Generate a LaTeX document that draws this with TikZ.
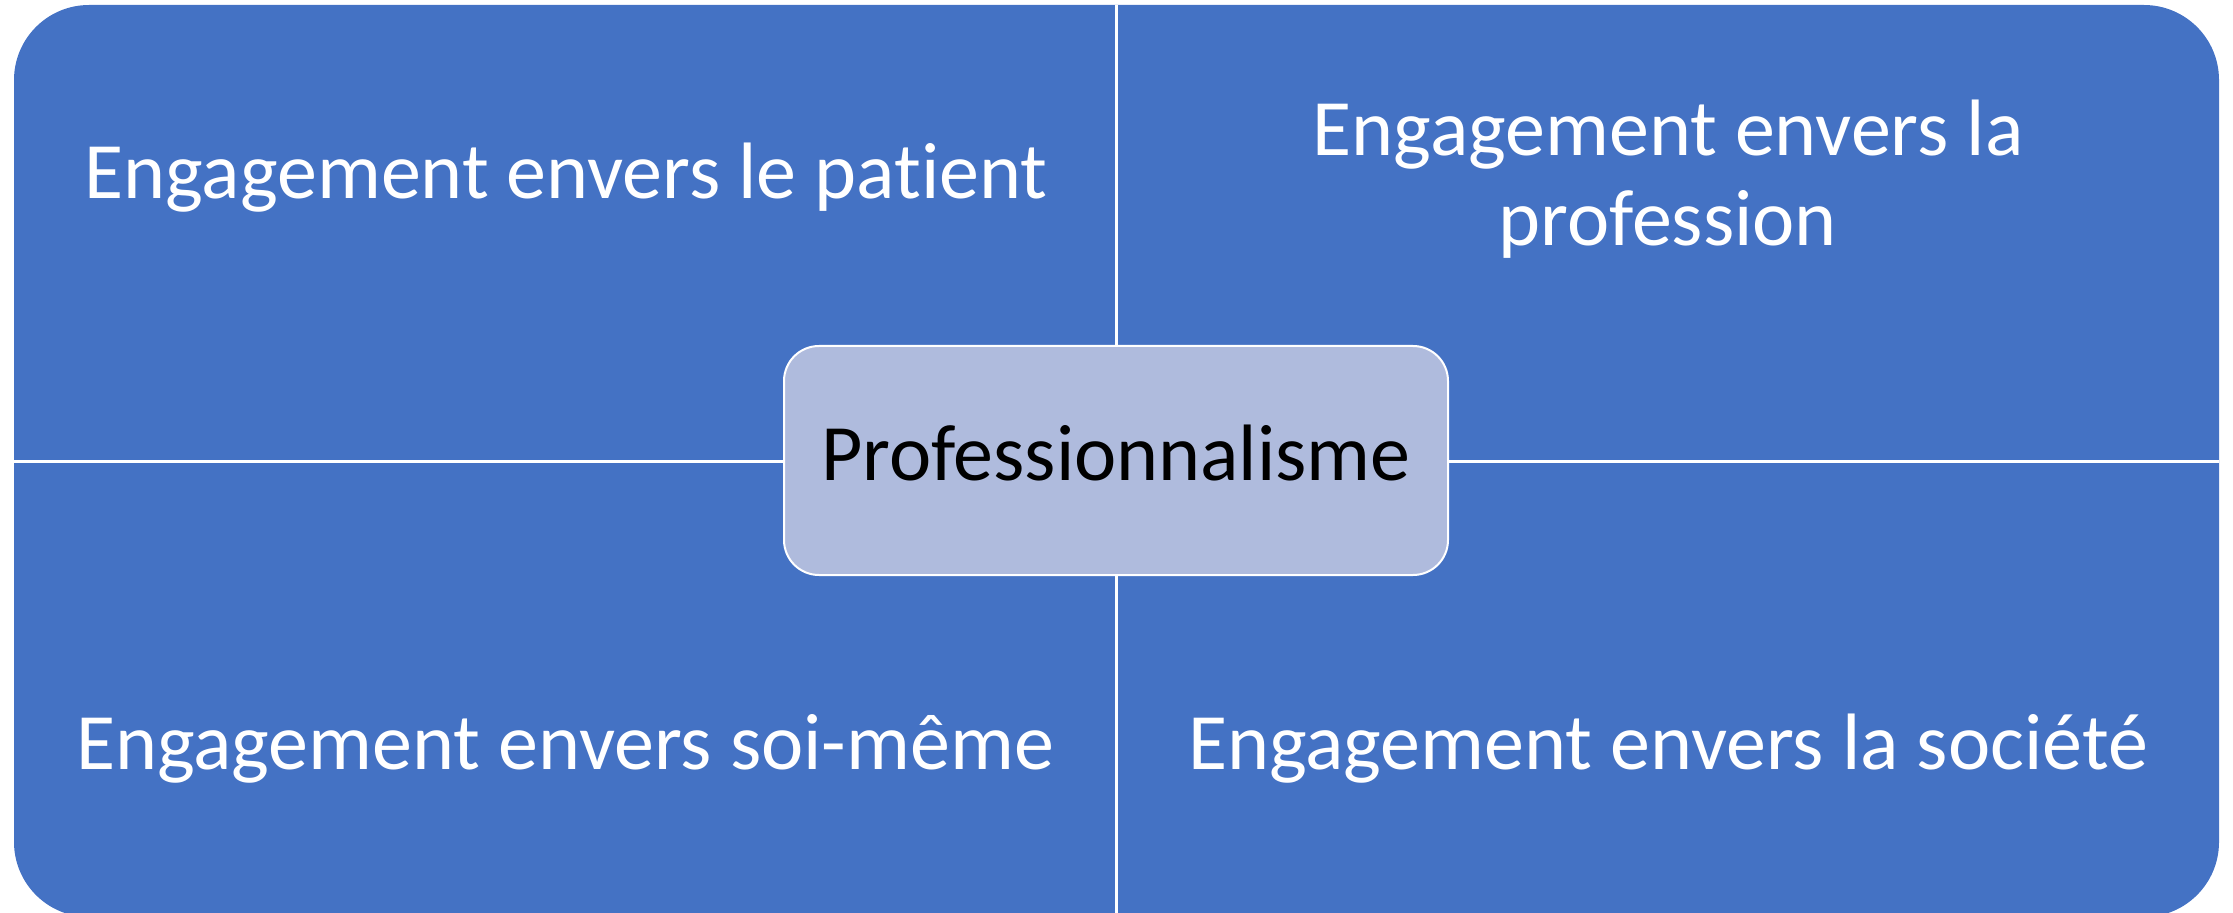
\documentclass[tikz,border=0pt]{standalone}
\usepackage{fontspec}
\setmainfont{Carlito}[Ligatures=CommonOff]
\definecolor{quadblue}{RGB}{68,114,196}
\definecolor{hubblue}{RGB}{175,187,221}

\begin{document}
\begin{tikzpicture}[x=0.5pt,y=0.5pt,
  quadtext/.style={white, font=\fontsize{40}{45}\selectfont, align=center},
  hub/.style={draw=white, line width=1pt, fill=hubblue, rounded corners=17.5pt,
    minimum width=332pt, minimum height=114.5pt, text height=20pt, text depth=0pt,
    font=\fontsize{40}{45}\selectfont}]
\useasboundingbox (0,0) rectangle (2233,912);
\clip (0,0) rectangle (2233,912);
\coordinate (SW) at (14,-5);
\coordinate (NE) at (2219,907);
\coordinate (T) at (1116,907);
\coordinate (B) at (1116,-5);
\coordinate (L) at (14,451);
\coordinate (R) at (2219,451);
\fill[quadblue, rounded corners=37.5pt] (SW) rectangle (NE);
\draw[white, line width=1.5pt] (T) -- (B);
\draw[white, line width=1.5pt] (L) -- (R);
\node[quadtext, anchor=base] (patient)    at (566,713)  {Engagement envers le patient};
\node[quadtext]              (profession) at (1668,733) {Engagement envers la\\profession};
\node[quadtext, anchor=base] (soimeme)    at (565,143)  {Engagement envers soi-même};
\node[quadtext, anchor=base] (societe)    at (1668,143) {Engagement envers la société};
\node[hub] (prof) at (1116,451.5) {Professionnalisme};
\end{tikzpicture}
\end{document}
